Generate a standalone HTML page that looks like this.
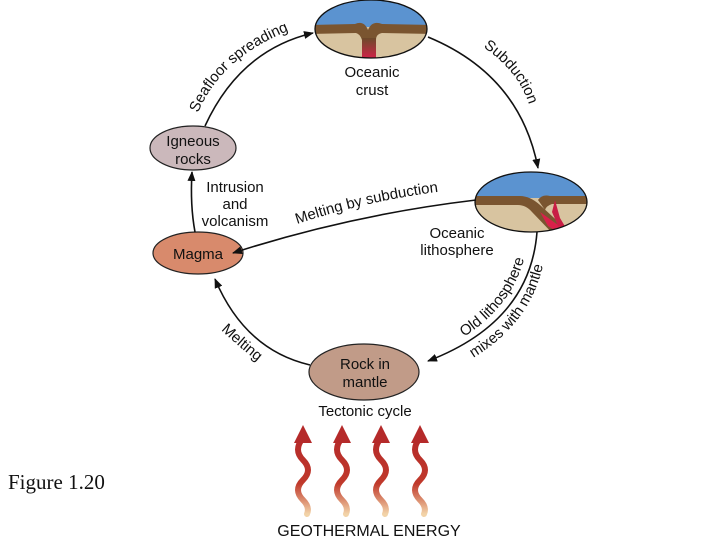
<!DOCTYPE html>
<html><head><meta charset="utf-8"><style>
html,body{margin:0;padding:0;background:#fff;width:720px;height:540px;overflow:hidden}
svg text{font-family:"Liberation Sans",sans-serif;fill:#111}
</style></head><body>
<svg width="720" height="540" viewBox="0 0 720 540" xmlns="http://www.w3.org/2000/svg">
<defs>
<marker id="ah" markerWidth="10" markerHeight="8" refX="9" refY="4" orient="auto" markerUnits="userSpaceOnUse">
<path d="M0,0 L10,4 L0,8 z" fill="#111"/></marker>
<clipPath id="c1"><ellipse cx="371" cy="29" rx="56" ry="29"/></clipPath>
<clipPath id="c2"><ellipse cx="531" cy="202" rx="56" ry="30"/></clipPath>
<linearGradient id="wg" x1="0" y1="0" x2="0" y2="1">
<stop offset="0" stop-color="#b52a2a"/><stop offset="0.6" stop-color="#c0392b"/><stop offset="1" stop-color="#f2d3a8"/></linearGradient>
<linearGradient id="pl" x1="0" y1="0" x2="0" y2="1"><stop offset="0" stop-color="#6b4a2a"/><stop offset="1" stop-color="#d8204a"/></linearGradient>
<path id="p1" d="M198,113 Q222,55 296,28"/>
<path id="p2" d="M483,47 Q520,72 530,108"/>
<path id="p3" d="M297,224 Q370,200 445,191"/>
<path id="p6" d="M221,330 Q240,348 262,365"/>
<path id="p4" d="M440,350 Q520,312 528,238"/>
<path id="p5" d="M450,370 Q538,330 546,246"/>
</defs>

<g clip-path="url(#c1)">
<rect x="310" y="0" width="125" height="60" fill="#d8c4a0"/>
<rect x="310" y="0" width="125" height="27" fill="#5b93d0"/>
<path d="M310,25 L355,24 Q364,20 368,30 Q372,20 382,24 L435,25 L435,34 L382,33 Q376,34 376,40 L376,60 L362,60 L362,40 Q360,34 356,33 L310,34 z" fill="#7a5530"/>
<rect x="362" y="38" width="14" height="22" fill="url(#pl)"/>
</g>
<ellipse cx="371" cy="29" rx="56" ry="29" fill="none" stroke="#111" stroke-width="1.3"/>

<g clip-path="url(#c2)">
<rect x="470" y="170" width="125" height="65" fill="#d8c4a0"/>
<rect x="470" y="170" width="125" height="28" fill="#5b93d0"/>
<path d="M470,196 L520,196 Q530,196 540,205 L565,228 L555,236 L532,212 Q526,205 518,205 L470,205 z" fill="#7a5530"/>
<path d="M538,200 Q542,194 550,196 L595,196 L595,204 L552,204 Q546,206 545,210 z" fill="#7a5530"/>
<path d="M540,212 L565,230 L562,235 L548,226 z" fill="#d8204a"/>
<path d="M555,200 L560,218 L566,228 L558,226 L552,212 z" fill="#c81e45"/>
</g>
<ellipse cx="531" cy="202" rx="56" ry="30" fill="none" stroke="#111" stroke-width="1.3"/>

<ellipse cx="193" cy="148" rx="43" ry="22" fill="#cbb8bb" stroke="#222" stroke-width="1.2"/>
<text x="193" y="146" font-size="15" text-anchor="middle">Igneous</text>
<text x="193" y="164" font-size="15" text-anchor="middle">rocks</text>
<ellipse cx="198" cy="253" rx="45" ry="21" fill="#d88a6c" stroke="#222" stroke-width="1.2"/>
<text x="198" y="259" font-size="15" text-anchor="middle">Magma</text>
<ellipse cx="364" cy="372" rx="55" ry="28" fill="#c19b88" stroke="#222" stroke-width="1.2"/>
<text x="365" y="369" font-size="15" text-anchor="middle">Rock in</text>
<text x="365" y="387" font-size="15" text-anchor="middle">mantle</text>

<g fill="none" stroke="#111" stroke-width="1.6">
<path d="M205,126 Q240,50 313,33" marker-end="url(#ah)"/>
<path d="M428,37 Q520,75 538,168" marker-end="url(#ah)"/>
<path d="M476,200 Q350,215 233,253" marker-end="url(#ah)"/>
<path d="M537,232 Q530,322 428,361" marker-end="url(#ah)"/>
<path d="M310,365 Q245,350 215,279" marker-end="url(#ah)"/>
<path d="M195,232 Q190,205 192,172" marker-end="url(#ah)"/>
</g>

<text font-size="15"><textPath href="#p1">Seafloor spreading</textPath></text>
<text font-size="15"><textPath href="#p2">Subduction</textPath></text>
<text font-size="15"><textPath href="#p3">Melting by subduction</textPath></text>
<text font-size="15"><textPath href="#p6">Melting</textPath></text>
<text font-size="15" text-anchor="middle"><textPath href="#p4" startOffset="52%">Old lithosphere</textPath></text>
<text font-size="15" text-anchor="middle"><textPath href="#p5" startOffset="52%">mixes with mantle</textPath></text>
<text x="372" y="77" font-size="15" text-anchor="middle">Oceanic</text>
<text x="372" y="95" font-size="15" text-anchor="middle">crust</text>
<text x="457" y="238" font-size="15" text-anchor="middle">Oceanic</text>
<text x="457" y="255" font-size="15" text-anchor="middle">lithosphere</text>
<text x="235" y="192" font-size="15" text-anchor="middle">Intrusion</text>
<text x="235" y="209" font-size="15" text-anchor="middle">and</text>
<text x="235" y="226" font-size="15" text-anchor="middle">volcanism</text>
<text x="365" y="416" font-size="15" text-anchor="middle">Tectonic cycle</text>
<text x="369" y="536" font-size="16" text-anchor="middle">GEOTHERMAL ENERGY</text>
<text x="8" y="489" font-size="21" style="font-family:'Liberation Serif',serif">Figure 1.20</text>

<g fill="none" stroke="url(#wg)" stroke-width="6" stroke-linecap="round">
<path d="M303,438 Q293,450 303,460 Q313,470 303,480 Q293,490 303,500 Q310,507 307,514"/>
<path d="M342,438 Q332,450 342,460 Q352,470 342,480 Q332,490 342,500 Q349,507 346,514"/>
<path d="M381,438 Q371,450 381,460 Q391,470 381,480 Q371,490 381,500 Q388,507 385,514"/>
<path d="M420,438 Q410,450 420,460 Q430,470 420,480 Q410,490 420,500 Q427,507 424,514"/>
</g>
<g fill="#b52a2a">
<path d="M294,443 L303,425 L312,443 z"/>
<path d="M333,443 L342,425 L351,443 z"/>
<path d="M372,443 L381,425 L390,443 z"/>
<path d="M411,443 L420,425 L429,443 z"/>
</g>
</svg>
</body></html>
